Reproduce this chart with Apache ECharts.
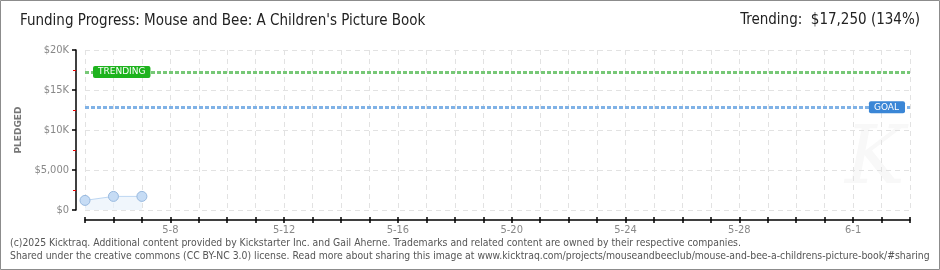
<!DOCTYPE html>
<html><head><meta charset="utf-8">
<script src="https://cdn.jsdelivr.net/npm/echarts@6/dist/echarts.min.js"></script>
<style>html,body{margin:0;padding:0;background:#fff}#c{width:940px;height:270px}</style>
</head><body><div id="c"></div>
<script>
const dayLabels = ['5-5','5-6','5-7','5-8','5-9','5-10','5-11','5-12','5-13','5-14','5-15','5-16','5-17','5-18','5-19','5-20','5-21','5-22','5-23','5-24','5-25','5-26','5-27','5-28','5-29','5-30','5-31','6-1','6-2','6-3'];
const pledgedDays = [0, 1, 2];
const pledgedValues = [1200, 1700, 1700];
const goalValue = 12850;
const trendingValue = 17250;
const yTickLabels = {0:'$0', 5000:'$5,000', 10000:'$10K', 15000:'$15K', 20000:'$20K'};
const titleText = "Funding Progress: Mouse and Bee: A Children's Picture Book";
const trendText = 'Trending:  $17,250 (134%)';
const footer1 = '(c)2025 Kicktraq. Additional content provided by Kickstarter Inc. and Gail Aherne. Trademarks and related content are owned by their respective companies.';
const footer2 = 'Shared under the creative commons (CC BY-NC 3.0) license. Read more about sharing this image at www.kicktraq.com/projects/mouseandbeeclub/mouse-and-bee-a-childrens-picture-book/#sharing';

const FONT = '"Liberation Sans Narrow","DejaVu Sans Condensed","Liberation Sans",sans-serif';
const FFONT = '"DejaVu Sans Condensed","DejaVu Sans",sans-serif';
const chart = echarts.init(document.getElementById('c'), null, {renderer:'canvas'});
const data = pledgedDays.map((d,i)=>[d, pledgedValues[i]]);
chart.setOption({
  animation:false,
  backgroundColor:'#fff',
  textStyle:{fontFamily:FONT},
  graphic:[
    {type:'rect', shape:{x:0.5,y:0.5,width:939,height:269}, style:{fill:'none', stroke:'#8c8c8c', lineWidth:1}, z:100},
    {type:'text', left:20, top:14, style:{text:titleText, font:'15px '+FONT, fill:'#222'}},
    {type:'text', right:20, top:13, style:{text:trendText, font:'15px '+FONT, fill:'#222'}},
    {type:'text', left:845, top:122, style:{text:'K', font:'italic 80px "DejaVu Serif",serif', fill:'#f8f8f8'}, z:-1},
    {type:'text', left:10, top:238, style:{text:footer1, font:'10.35px '+FFONT, fill:'#555'}},
    {type:'text', left:10, top:251, style:{text:footer2, font:'10.35px '+FFONT, fill:'#555'}}
  ],
  grid:{left:85, right:30, top:50, bottom:60, containLabel:false},
  xAxis:[{
    type:'value', min:0, max:dayLabels.length-1, interval:1, offset:10,
    axisLine:{show:true, onZero:false, lineStyle:{color:'#000', width:1.5}},
    axisTick:{show:true, length:3, lineStyle:{color:'#000', width:1.5}},
    axisLabel:{color:'#888', fontSize:11, fontFamily:FONT, margin:5, showMinLabel:true, showMaxLabel:true,
      formatter:v=> (v%4===3 ? dayLabels[v] : '')},
    splitLine:{show:true, lineStyle:{color:'#e2e2e2', type:[5,4], width:1}}
  },{
    type:'value', min:0, max:dayLabels.length-1, interval:1, offset:10, position:'bottom',
    axisLine:{show:false, onZero:false},
    axisTick:{show:true, inside:true, length:3, lineStyle:{color:'#000', width:1.5}},
    axisLabel:{show:false}, splitLine:{show:false}
  }],
  yAxis:{
    type:'value', min:0, max:20000, interval:5000, offset:9,
    name:'PLEDGED', nameLocation:'middle', nameGap:47, nameRotate:90,
    nameTextStyle:{color:'#777', fontSize:9, fontFamily:'"DejaVu Sans",sans-serif', fontWeight:'bold'},
    axisLine:{show:true, onZero:false, lineStyle:{color:'#000', width:1.5}},
    axisTick:{show:true, length:4, lineStyle:{color:'#000', width:1.5}},
    minorTick:{show:true, splitNumber:2, length:3, lineStyle:{color:'#e00', width:1}},
    axisLabel:{color:'#888', fontSize:11, fontFamily:FONT, margin:7, formatter:v=>yTickLabels[v]},
    splitLine:{show:true, lineStyle:{color:'#e2e2e2', type:[5,4], width:1}}
  },
  series:[{
    type:'line', data:data, symbol:'circle', symbolSize:10,
    lineStyle:{color:'#bcd6f2', width:1},
    itemStyle:{color:'#c6dcf5', borderColor:'#98b9df', borderWidth:1},
    areaStyle:{color:'#eaf2fb'},
    z:5,
    markLine:{
      silent:true, symbol:'none',
      data:[
        {yAxis:trendingValue, lineStyle:{color:'#77c877', type:[4,2], width:3},
          label:{show:true, formatter:'TRENDING', position:'insideStart', distance:[8,-6],
            color:'#fff', backgroundColor:'#1db31d', padding:[2,5,1,5], borderRadius:2,
            fontSize:9, fontFamily:'"DejaVu Sans",sans-serif'}},
        {yAxis:goalValue, lineStyle:{color:'#80b2e6', type:[4,2], width:3},
          label:{show:true, formatter:'GOAL', position:'insideEnd', distance:[5,-6],
            color:'#fff', backgroundColor:'#3a86d6', padding:[2,6,1,5], borderRadius:2,
            fontSize:9, fontFamily:'"DejaVu Sans",sans-serif'}}
      ]
    }
  }]
});
</script></body></html>
